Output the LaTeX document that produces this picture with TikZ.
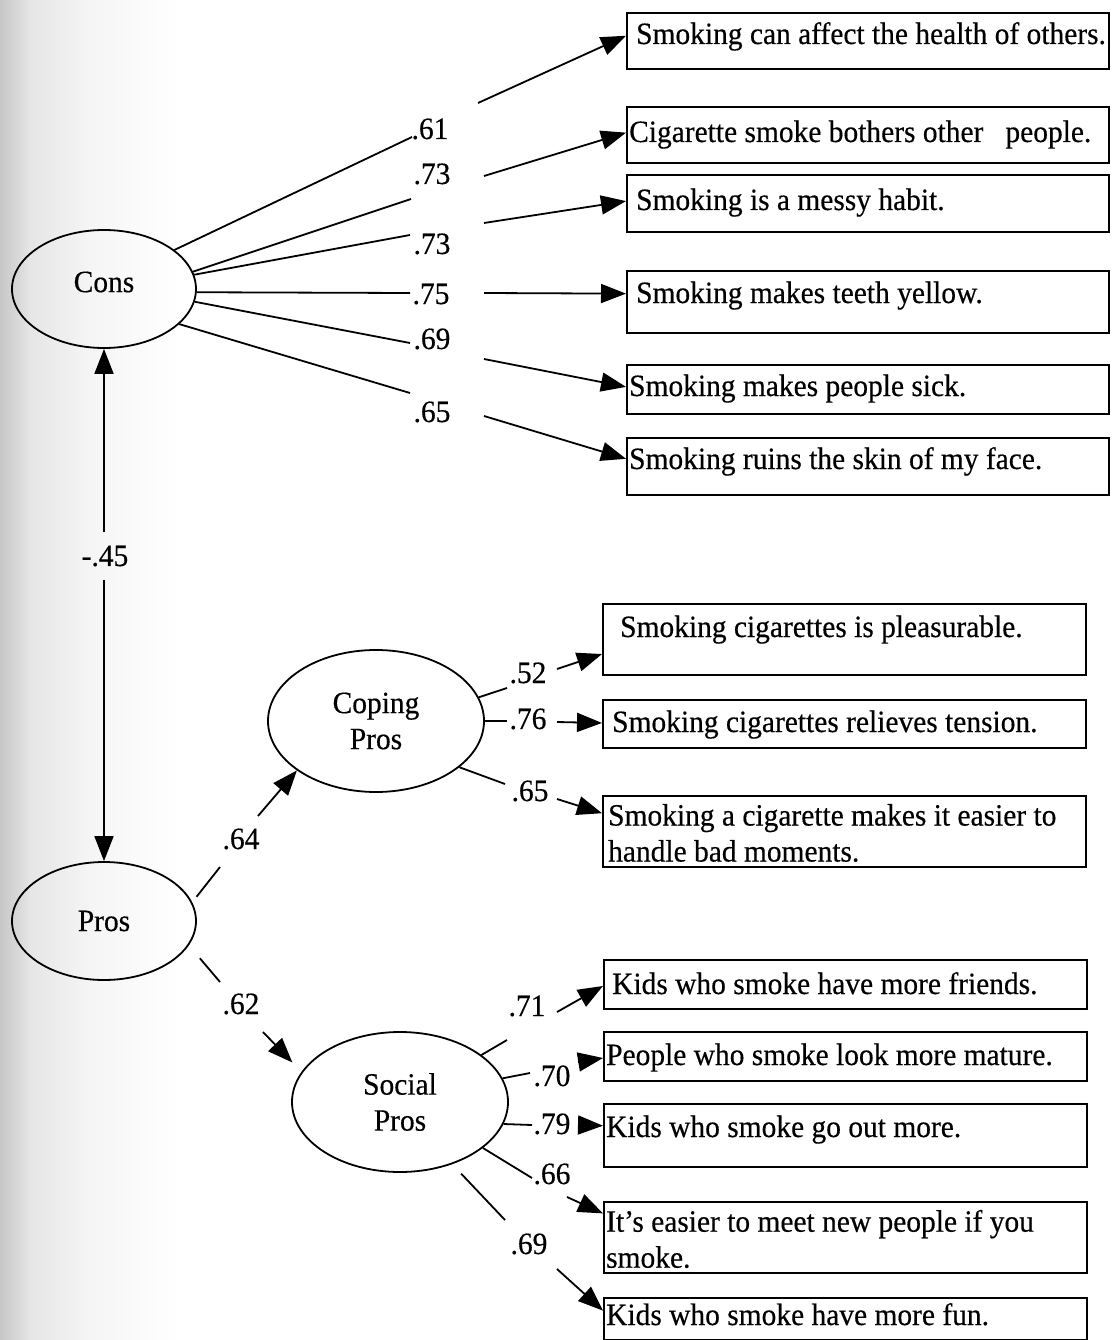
\documentclass[tikz,border=0pt]{standalone}
\usepackage{fontspec}
\setmainfont{Liberation Serif}[FakeBold=0.4, FakeStretch=0.95]
\usetikzlibrary{arrows.meta,calc,shapes.geometric}
\begin{document}
\begin{tikzpicture}[x=1pt,y=-1pt,
  every node/.style={font=\fontsize{31}{36}\selectfont, inner sep=0pt},
  latent/.style={draw, ellipse, line width=1.8pt, align=center},
  item/.style={draw, rectangle, line width=1.9pt, anchor=north west},
  itemtext/.style={anchor=base west, align=left},
  coef/.style={anchor=base},
  link/.style={line width=1.8pt},
  arr/.style={link, -{Triangle[length=25pt,width=19pt]}},
]
\useasboundingbox (0,0) rectangle (1111,1340);

% paper tone along the left margin
\shade[left color=black!22, right color=black!10] (0,0) rectangle (30,1340);
\shade[left color=black!10, right color=black!4] (29.5,0) rectangle (90,1340);
\shade[left color=black!4, right color=white] (89.5,0) rectangle (180,1340);

% latent factors
\node[latent, minimum width=184pt, minimum height=118pt] (cons) at (104,289) {};
\node (consT) at (104,282) {Cons};
\node[latent, minimum width=184pt, minimum height=118pt] (pros) at (104,921) {Pros};
\node[latent, minimum width=216pt, minimum height=142pt] (coping) at (376,721) {Coping\\Pros};
\node[latent, minimum width=216pt, minimum height=140pt] (social) at (400,1102) {Social\\Pros};

% indicator boxes
\node[item, minimum width=482pt, minimum height=56pt] (b1) at (626,12) {};
\node[item, minimum width=482pt, minimum height=56pt] (b2) at (626,106) {};
\node[item, minimum width=482pt, minimum height=57pt] (b3) at (626,174) {};
\node[item, minimum width=482pt, minimum height=62pt] (b4) at (626,270) {};
\node[item, minimum width=482pt, minimum height=49pt] (b5) at (626,364) {};
\node[item, minimum width=482pt, minimum height=57pt] (b6) at (626,437) {};
\node[item, minimum width=483pt, minimum height=71pt] (c1) at (602,603) {};
\node[item, minimum width=483pt, minimum height=48pt] (c2) at (602,699) {};
\node[item, minimum width=483pt, minimum height=71pt] (c3) at (602,795) {};
\node[item, minimum width=483pt, minimum height=49pt] (s1) at (603,959) {};
\node[item, minimum width=483pt, minimum height=49pt] (s2) at (603,1031) {};
\node[item, minimum width=483pt, minimum height=63pt] (s3) at (603,1103) {};
\node[item, minimum width=483pt, minimum height=71pt] (s4) at (603,1201) {};
\node[item, minimum width=483pt, minimum height=42pt] (s5) at (603,1297) {};

\node[itemtext] (b1t) at (636,44) {Smoking can affect the health of others.};
\node[itemtext] (b2t) at (629,142) {Cigarette smoke bothers other\ \ \ people.};
\node[itemtext] (b3t) at (636,210) {Smoking is a messy habit.};
\node[itemtext] (b4t) at (636,303) {Smoking makes teeth yellow.};
\node[itemtext] (b5t) at (629,396) {Smoking makes people sick.};
\node[itemtext] (b6t) at (629,469) {Smoking ruins the skin of my face.};
\node[itemtext] (c1t) at (620,637) {Smoking cigarettes is pleasurable.};
\node[itemtext] (c2t) at (612,732) {Smoking cigarettes relieves tension.};
\node[itemtext, anchor=west] (c3t) at (608,833) {Smoking a cigarette makes it easier to\\handle bad moments.};
\node[itemtext] (s1t) at (612,994) {Kids who smoke have more friends.};
\node[itemtext] (s2t) at (606,1065) {People who smoke look more mature.};
\node[itemtext] (s3t) at (606,1137) {Kids who smoke go out more.};
\node[itemtext, anchor=west] (s4t) at (606,1239) {It’s easier to meet new people if you\\smoke.};
\node[itemtext] (s5t) at (606,1325) {Kids who smoke have more fun.};

% loadings
\node[coef] (l61) at (430,139) {.61};
\node[coef] (l73a) at (432,184) {.73};
\node[coef] (l73b) at (432,254) {.73};
\node[coef] (l75) at (431,304) {.75};
\node[coef] (l69) at (432,349) {.69};
\node[coef] (l65) at (432,422) {.65};
\node[inner ysep=13pt] (l45) at (105,556) {-.45};
\node[coef] (l64) at (241,849) {.64};
\node[coef] (l62) at (241,1014) {.62};
\node[coef] (l52) at (528,683) {.52};
\node[coef] (l76) at (528,729) {.76};
\node[coef] (l65c) at (530,801) {.65};
\node[coef] (l71) at (527,1016) {.71};
\node[coef] (l70) at (552,1086) {.70};
\node[coef] (l79) at (552,1134) {.79};
\node[coef] (l66) at (552,1184) {.66};
\node[coef] (l69s) at (529,1254) {.69};

% break points of the paths around the loadings
\coordinate (e61) at (412,137);  \coordinate (s61) at (478,103);
\coordinate (e73a) at (411,199); \coordinate (s73a) at (484,176);
\coordinate (e73b) at (410,235); \coordinate (s73b) at (484,223);
\coordinate (e75) at (410,293);  \coordinate (s75) at (484,293);
\coordinate (e69) at (410,343);  \coordinate (s69) at (484,359);
\coordinate (e65) at (410,393);  \coordinate (s65) at (484,416);
\coordinate (e64) at (220,867);  \coordinate (s64) at (258,816);
\coordinate (e62) at (220,982);  \coordinate (s62) at (263,1032);
\coordinate (e52) at (507,688);  \coordinate (s52) at (557,669);
\coordinate (e76) at (507,721);  \coordinate (s76) at (557,722);
\coordinate (e65c) at (505,784); \coordinate (s65c) at (557,799);
\coordinate (e71) at (507,1040); \coordinate (s71) at (557,1012);
\coordinate (e70) at (530,1073); \coordinate (s70) at (578,1062);
\coordinate (e79) at (532,1125); \coordinate (s79) at (578,1125);
\coordinate (e66) at (532,1178); \coordinate (s66) at (567,1197);
\coordinate (e69s) at (505,1220);\coordinate (s69s) at (557,1269);

% Cons -> items
\draw[link] (cons.29) -- (e61);
\draw[link] (cons.11) -- (e73a);
\draw[link] (cons.9) -- (e73b);
\draw[link] (cons.-2) -- (e75);
\draw[link] (cons.-8) -- (e69);
\draw[link] (cons.-25) -- (e65);
\draw[arr] (s61) -- ($(b1.north west)!0.41!(b1.south west)$);
\draw[arr] (s73a) -- ($(b2.north west)!0.46!(b2.south west)$);
\draw[arr] (s73b) -- ($(b3.north west)!0.46!(b3.south west)$);
\draw[arr] (s75) -- ($(b4.north west)!0.37!(b4.south west)$);
\draw[arr] (s69) -- ($(b5.north west)!0.45!(b5.south west)$);
\draw[arr] (s65) -- ($(b6.north west)!0.37!(b6.south west)$);

% Cons <-> Pros
\draw[arr] (l45.north -| cons) -- (cons);
\draw[arr] (l45.south -| pros) -- (pros);

% Pros -> Coping Pros, Social Pros
\draw[link, shorten <=7pt] (pros.12) -- (e64);
\draw[arr] (s64) -- (coping.212);
\draw[link, shorten <=17pt] (pros.-16) -- (e62);
\draw[arr, shorten >=13pt] (s62) -- (social.163);

% Coping Pros -> items
\draw[link] (coping.13) -- (e52);
\draw[link] (coping.east) -- (e76);
\draw[link] (coping.-29) -- (e65c);
\draw[arr] (s52) -- ($(c1.north west)!0.70!(c1.south west)$);
\draw[arr] (s76) -- ($(c2.north west)!0.48!(c2.south west)$);
\draw[arr] (s65c) -- ($(c3.north west)!0.25!(c3.south west)$);

% Social Pros -> items
\draw[link] (social.30) -- (e71);
\draw[link] (social.13) -- (e70);
\draw[link] (social.-12) -- (e79);
\draw[link] (social.-29) -- (e66);
\draw[link, shorten <=13pt] (social.-50) -- (e69s);
\draw[arr] (s71) -- ($(s1.north west)!0.53!(s1.south west)$);
\draw[arr] (s70) -- ($(s2.north west)!0.53!(s2.south west)$);
\draw[arr] (s79) -- ($(s3.north west)!0.35!(s3.south west)$);
\draw[arr] (s66) -- ($(s4.north west)!0.17!(s4.south west)$);
\draw[arr] (s69s) -- ($(s5.north west)!0.31!(s5.south west)$);
\end{tikzpicture}
\end{document}
